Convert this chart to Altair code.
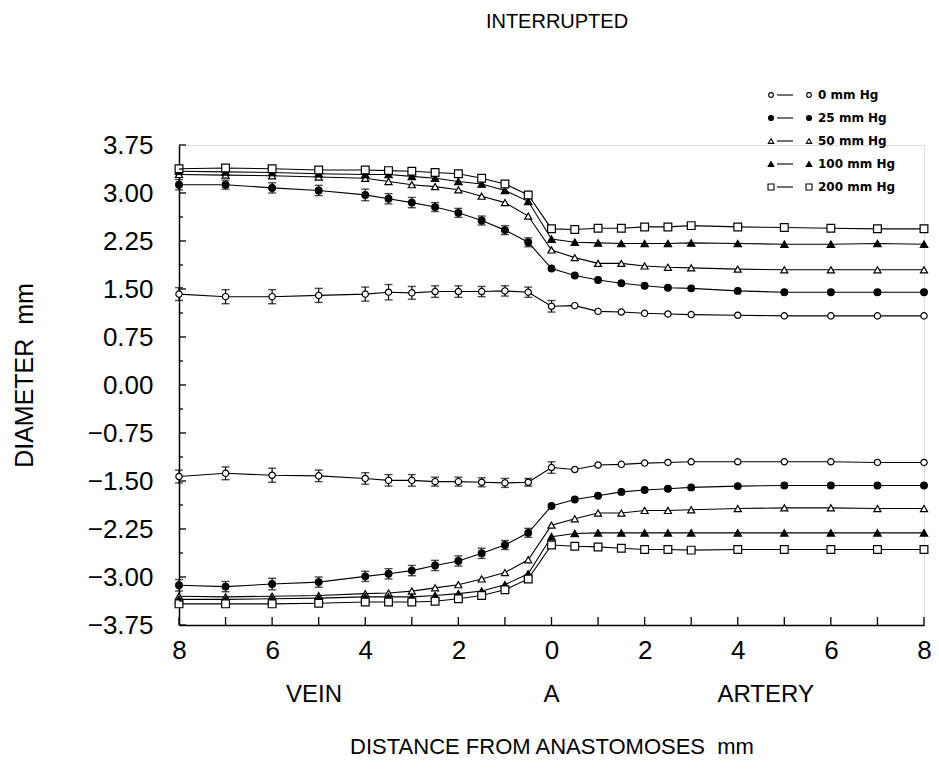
import altair as alt
import pandas as pd

FONT = "Liberation Sans"

X_POS = [-8, -7, -6, -5, -4, -3.5, -3, -2.5, -2, -1.5, -1, -0.5,
         0, 0.5, 1, 1.5, 2, 2.5, 3, 4, 5, 6, 7, 8]
SERIES = ["0 mm Hg", "25 mm Hg", "50 mm Hg", "100 mm Hg", "200 mm Hg"]

UPPER = {
    "0 mm Hg":   [1.42, 1.38, 1.38, 1.40, 1.42, 1.45, 1.44, 1.46, 1.46, 1.46, 1.47, 1.45,
                  1.23, 1.24, 1.15, 1.14, 1.12, 1.11, 1.10, 1.09, 1.08, 1.08, 1.08, 1.08],
    "25 mm Hg":  [3.13, 3.13, 3.08, 3.04, 2.97, 2.91, 2.85, 2.78, 2.69, 2.57, 2.42, 2.23,
                  1.82, 1.71, 1.64, 1.59, 1.55, 1.52, 1.51, 1.47, 1.45, 1.45, 1.45, 1.45],
    "50 mm Hg":  [3.29, 3.28, 3.27, 3.25, 3.23, 3.18, 3.13, 3.10, 3.05, 2.95, 2.85, 2.64,
                  2.11, 1.99, 1.90, 1.90, 1.86, 1.84, 1.83, 1.81, 1.80, 1.80, 1.80, 1.80],
    "100 mm Hg": [3.34, 3.33, 3.32, 3.30, 3.29, 3.29, 3.26, 3.23, 3.18, 3.14, 3.04, 2.87,
                  2.28, 2.23, 2.22, 2.21, 2.21, 2.21, 2.22, 2.21, 2.20, 2.20, 2.21, 2.20],
    "200 mm Hg": [3.38, 3.39, 3.38, 3.36, 3.36, 3.35, 3.34, 3.32, 3.30, 3.23, 3.14, 2.97,
                  2.44, 2.43, 2.45, 2.45, 2.47, 2.47, 2.49, 2.47, 2.46, 2.45, 2.44, 2.44],
}
LOWER = {
    "0 mm Hg":   [-1.43, -1.38, -1.41, -1.42, -1.46, -1.49, -1.49, -1.51, -1.51, -1.52, -1.53, -1.52,
                  -1.29, -1.32, -1.25, -1.24, -1.22, -1.21, -1.20, -1.20, -1.20, -1.20, -1.21, -1.21],
    "25 mm Hg":  [-3.13, -3.15, -3.11, -3.08, -2.99, -2.95, -2.90, -2.82, -2.75, -2.63, -2.50, -2.31,
                  -1.89, -1.79, -1.73, -1.67, -1.64, -1.62, -1.60, -1.58, -1.57, -1.57, -1.57, -1.57],
    "50 mm Hg":  [-3.30, -3.31, -3.30, -3.29, -3.26, -3.25, -3.22, -3.17, -3.12, -3.03, -2.93, -2.73,
                  -2.19, -2.09, -2.00, -2.00, -1.96, -1.96, -1.95, -1.93, -1.92, -1.92, -1.93, -1.93],
    "100 mm Hg": [-3.35, -3.35, -3.34, -3.33, -3.31, -3.31, -3.31, -3.29, -3.26, -3.22, -3.12, -2.95,
                  -2.37, -2.32, -2.31, -2.31, -2.31, -2.31, -2.31, -2.31, -2.31, -2.31, -2.31, -2.31],
    "200 mm Hg": [-3.42, -3.42, -3.42, -3.41, -3.39, -3.39, -3.39, -3.38, -3.34, -3.29, -3.20, -3.03,
                  -2.50, -2.52, -2.53, -2.55, -2.57, -2.57, -2.58, -2.57, -2.57, -2.57, -2.57, -2.57],
}
ERR_UPPER = {
    "0 mm Hg":  [0.10, 0.11, 0.11, 0.11, 0.11, 0.12, 0.10, 0.09, 0.09, 0.08, 0.08, 0.08, 0.09],
    "25 mm Hg": [0.08, 0.07, 0.08, 0.08, 0.09, 0.08, 0.08, 0.07, 0.07, 0.07, 0.07, 0.07],
}
ERR_LOWER = {
    "0 mm Hg":  [0.10, 0.10, 0.11, 0.09, 0.09, 0.09, 0.09, 0.07, 0.07, 0.07, 0.07, 0.06, 0.09],
    "25 mm Hg": [0.09, 0.08, 0.09, 0.08, 0.08, 0.08, 0.08, 0.08, 0.08, 0.08, 0.07, 0.07],
}

X_TICK_LABELS = [-8, -6, -4, -2, 0, 2, 4, 6, 8]
X_TICKS = list(range(-8, 9))
Y_TICKS = [-3.75, -3.0, -2.25, -1.5, -0.75, 0.0, 0.75, 1.5, 2.25, 3.0, 3.75]
Y_MINOR = [-3.375, -2.625, -1.875, -1.125, -0.375, 0.375, 1.125, 1.875, 2.625, 3.375]
ANNOT_TEXT = ["VEIN", "A", "ARTERY"]
ANNOT_X = [-5.1, 0, 4.6]
NB = "\u00a0"

# ---- build tables ----
rows, errs = [], []
for half, table, etable in (("upper", UPPER, ERR_UPPER), ("lower", LOWER, ERR_LOWER)):
    for s in SERIES:
        for xv, yv in zip(X_POS, table[s]):
            rows.append({"series": s, "half": half, "x": xv, "y": yv})
        for i, e in enumerate(etable.get(s, [])):
            yv = table[s][i]
            errs.append({"series": s, "half": half, "x": X_POS[i],
                         "lo": yv - e, "hi": yv + e})
df = pd.DataFrame(rows)
df_err = pd.DataFrame(errs)
df_caps = pd.concat([
    df_err[["x", "lo"]].rename(columns={"lo": "yc"}),
    df_err[["x", "hi"]].rename(columns={"hi": "yc"}),
])

W, H = 745, 480

xscale = alt.Scale(domain=[-8, 8], nice=False, zero=False)
yscale = alt.Scale(domain=[-3.75, 3.75], nice=False, zero=False)

x_axis = alt.Axis(
    values=X_TICK_LABELS, labelExpr="'' + abs(datum.value)", tickSize=0, grid=False,
    domainColor="black", domainWidth=1.5, labelFontSize=26, labelFont=FONT,
    labelColor="black", labelPadding=12, labelFlush=False, labelOverlap=False,
    title="DISTANCE FROM ANASTOMOSES" + NB + NB + "mm", titleFont=FONT, titleFontSize=22,
    titleFontWeight="normal", titleColor="black", titleY=121, titleBaseline="middle",
)
y_axis = alt.Axis(
    values=Y_TICKS, labelExpr="replace(format(datum.value, '.2f'), '-', '\u2212')",
    tickSize=0, grid=False,
    domainColor="black", domainWidth=1.5, labelFontSize=26, labelFont=FONT,
    labelColor="black", labelPadding=26, labelFlush=False, labelOverlap=False,
    title="DIAMETER" + NB + NB + "mm", titleFont=FONT, titleFontSize=25,
    titleFontWeight="normal",
    titleColor="black", titleX=-155, titleY=230, titleAngle=270,
    titleBaseline="middle", titleAlign="center",
)


def X(field):
    return alt.X(field, scale=xscale, axis=x_axis)


def Y(field):
    return alt.Y(field, scale=yscale, axis=y_axis)


shape_scale = alt.Scale(domain=SERIES,
                        range=["circle", "circle", "triangle-up", "triangle-up", "square"])
fill_scale = alt.Scale(domain=SERIES, range=["white", "black", "white", "black", "white"])
size_scale = alt.Scale(domain=SERIES, range=[40, 60, 36, 46, 46])

lines = alt.Chart(df).mark_line(color="black", strokeWidth=1.1).encode(
    x=X("x:Q"), y=Y("y:Q"), detail=["series:N", "half:N"], order="x:Q")

bars = alt.Chart(df_err).mark_rule(color="black", strokeWidth=1.2).encode(
    x=X("x:Q"), y=Y("lo:Q"), y2="hi:Q")
caps = alt.Chart(df_caps).mark_tick(color="black", orient="horizontal", size=8,
                                    thickness=1.4).encode(
    x=X("x:Q"), y=Y("yc:Q"))

points = alt.Chart(df).mark_point(filled=True, stroke="black", strokeWidth=1.2,
                                  opacity=1).encode(
    x=X("x:Q"), y=Y("y:Q"),
    shape=alt.Shape("series:N", scale=shape_scale, legend=None),
    fill=alt.Fill("series:N", scale=fill_scale, legend=None),
    size=alt.Size("series:N", scale=size_scale, legend=None),
)

# inward ticks
xt = alt.Chart(pd.DataFrame({"t": X_TICKS})).mark_rule(color="black", strokeWidth=1.3).encode(
    x=X("t:Q"), y=alt.value(H), y2=alt.value(H - 8))
yt = alt.Chart(pd.DataFrame({"t": Y_TICKS})).mark_rule(color="black", strokeWidth=1.3).encode(
    y=Y("t:Q"), x=alt.value(0), x2=alt.value(7))
ym = alt.Chart(pd.DataFrame({"t": Y_MINOR})).mark_rule(color="black", strokeWidth=1.3).encode(
    y=Y("t:Q"), x=alt.value(0), x2=alt.value(4))

annot = alt.Chart(pd.DataFrame({"label": ANNOT_TEXT, "x": ANNOT_X})).mark_text(
    font=FONT, fontSize=24, color="black", baseline="middle", align="center").encode(
    x=X("x:Q"), y=alt.value(H + 70), text="label:N")

title = alt.Chart(pd.DataFrame({"t": ["INTERRUPTED"]})).mark_text(
    font=FONT, fontSize=20, color="black", baseline="middle", align="center").encode(
    x=alt.value(378), y=alt.value(-123), text="t:N")

# legend (manual, symbol — line — symbol label)
leg = pd.DataFrame({"series": SERIES, "row": list(range(len(SERIES)))})
leg_y = alt.Y("py:Q", scale=None, axis=None)
leg_base = alt.Chart(leg).transform_calculate(py="-50 + 23 * datum.row")
leg_shape = alt.Shape("series:N", scale=shape_scale, legend=None)
leg_fill = alt.Fill("series:N", scale=fill_scale, legend=None)
leg_size = alt.Size("series:N", scale=alt.Scale(domain=SERIES, range=[22, 36, 24, 30, 30]),
                    legend=None)
leg_sym1 = leg_base.mark_point(filled=True, stroke="black", strokeWidth=1.1, opacity=1).encode(
    x=alt.value(592), y=leg_y, shape=leg_shape, fill=leg_fill, size=leg_size)
leg_sym2 = leg_base.mark_point(filled=True, stroke="black", strokeWidth=1.1, opacity=1).encode(
    x=alt.value(630), y=leg_y, shape=leg_shape, fill=leg_fill, size=leg_size)
leg_line = leg_base.mark_rule(color="black", strokeWidth=1.1).encode(
    x=alt.value(598), x2=alt.value(614), y=leg_y)
leg_text = leg_base.mark_text(font="DejaVu Sans", fontSize=12, fontWeight="bold",
                              color="black", align="left", baseline="middle").encode(
    x=alt.value(639), y=leg_y, text="series:N")
legend = alt.layer(leg_line, leg_sym1, leg_sym2, leg_text).resolve_scale(size="independent")

chart = alt.layer(
    lines, bars, caps, points, xt, yt, ym, annot, title, legend
).resolve_scale(size="independent").properties(
    width=W, height=H,
    autosize=alt.AutoSizeParams(type="none"),
    padding={"left": 171, "top": 137, "right": 7, "bottom": 138},
).configure_view(stroke=None).configure(background="white")

chart.save("out.html", embed_options={"renderer": "svg", "actions": False})
